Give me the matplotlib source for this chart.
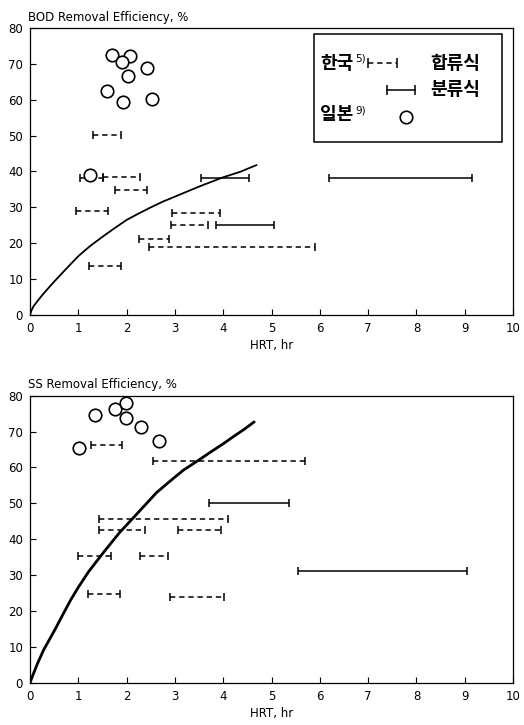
import numpy as np
import matplotlib
matplotlib.use("Agg")
import matplotlib.pyplot as plt
from matplotlib.patches import Rectangle

plt.rcParams['font.family'] = ['DejaVu Sans']
KR = ['Noto Sans CJK KR', 'DejaVu Sans']

# ---- BOD panel data ----
bod_jp_hrt = [1.69, 2.07, 1.90, 2.42, 2.02, 1.59, 1.92, 2.52, 1.24]
bod_jp_eff = [72.6, 72.1, 70.4, 68.9, 66.6, 62.5, 59.4, 60.1, 39.0]

bod_comb_lo = [1.31, 1.04, 1.52, 1.76, 0.95, 2.94, 2.91, 2.25, 2.46, 1.22]
bod_comb_hi = [1.88, 1.52, 2.28, 2.43, 1.62, 3.94, 3.68, 2.87, 5.90, 1.89]
bod_comb_eff = [50.1, 38.3, 38.5, 34.8, 29.1, 28.5, 25.0, 21.3, 19.0, 13.6]

bod_sep_lo = [3.53, 6.20, 3.85]
bod_sep_hi = [4.54, 9.14, 5.05]
bod_sep_eff = [38.2, 38.3, 25.0]

bod_curve_x = [0, 0.03, 0.08, 0.15, 0.25, 0.38, 0.5, 0.75, 1.0, 1.25, 1.5, 1.75,
               2.0, 2.25, 2.5, 2.75, 3.0, 3.25, 3.5, 3.75, 4.0, 4.35, 4.69]
bod_curve_y = [0, 1.3, 2.6, 3.8, 5.5, 7.5, 9.3, 12.9, 16.4, 19.3, 21.8, 24.2,
               26.5, 28.3, 30.0, 31.6, 33.0, 34.4, 35.8, 37.1, 38.4, 39.9, 41.8]

# ---- SS panel data ----
ss_jp_hrt = [1.34, 1.75, 1.98, 1.98, 2.29, 2.68, 1.02]
ss_jp_eff = [74.6, 76.4, 78.0, 73.8, 71.3, 67.4, 65.5]

ss_comb_lo = [1.26, 2.54, 1.43, 1.43, 3.06, 0.99, 2.27, 1.21, 2.90]
ss_comb_hi = [1.90, 5.70, 4.09, 2.38, 3.96, 1.67, 2.86, 1.86, 4.01]
ss_comb_eff = [66.2, 61.8, 45.5, 42.7, 42.7, 35.3, 35.3, 24.8, 24.0]

ss_sep_lo = [3.70, 5.55]
ss_sep_hi = [5.36, 9.04]
ss_sep_eff = [50.0, 31.1]

ss_curve_x = [0, 0.05, 0.15, 0.28, 0.4, 0.52, 0.68, 0.83, 1.0, 1.21, 1.52, 1.85,
              2.14, 2.4, 2.62, 2.9, 3.17, 3.52, 3.75, 4.0, 4.2, 4.42, 4.64]
ss_curve_y = [0, 1.8, 5.2, 9.1, 12.0, 14.9, 19.0, 22.8, 26.6, 30.9, 36.3, 41.8,
              46.0, 49.8, 53.0, 56.2, 59.2, 62.3, 64.4, 66.6, 68.5, 70.5, 72.7]

xticks = list(range(0, 11))
yticks = list(range(0, 90, 10))


def ranges(ax, lo, hi, y, ls):
    lo = np.array(lo)
    hi = np.array(hi)
    eb = ax.errorbar((lo + hi) / 2, y, xerr=(hi - lo) / 2, fmt='none',
                     ecolor='k', elinewidth=1.1, capsize=3.2, capthick=1.1)
    eb[2][0].set_linestyle(ls)


def panel(ax, title, jp_x, jp_y, c_lo, c_hi, c_y, s_lo, s_hi, s_y, cx, cy, clw):
    ax.set_xlim(0, 10)
    ax.set_ylim(0, 80)
    ax.set_xticks(xticks)
    ax.set_yticks(yticks)
    ax.tick_params(direction='in', length=4, width=0.8, labelsize=8.5, pad=5)
    for s in ax.spines.values():
        s.set_linewidth(0.9)
    ranges(ax, c_lo, c_hi, c_y, (0, (3.5, 2.5)))
    ranges(ax, s_lo, s_hi, s_y, '-')
    ax.plot(jp_x, jp_y, 'o', mfc='white', mec='k', mew=1.2, ms=9, ls='none')
    ax.plot(cx, cy, color='k', lw=clw, solid_capstyle='round',
            solid_joinstyle='round')
    ax.set_xlabel("HRT, hr", fontsize=8.5, labelpad=3)
    ax.text(-0.005, 1.015, title, transform=ax.transAxes, fontsize=8.5,
            ha='left', va='bottom')


fig = plt.figure(figsize=(5.24, 7.25), dpi=100)
ax1 = fig.add_axes([0.0573, 0.5655, 0.9218, 0.3959])
ax2 = fig.add_axes([0.0573, 0.0583, 0.9218, 0.3959])

panel(ax1, "BOD Removal Efficiency, %", bod_jp_hrt, bod_jp_eff,
      bod_comb_lo, bod_comb_hi, bod_comb_eff,
      bod_sep_lo, bod_sep_hi, bod_sep_eff, bod_curve_x, bod_curve_y, 1.3)
panel(ax2, "SS Removal Efficiency, %", ss_jp_hrt, ss_jp_eff,
      ss_comb_lo, ss_comb_hi, ss_comb_eff,
      ss_sep_lo, ss_sep_hi, ss_sep_eff, ss_curve_x, ss_curve_y, 2.0)

# legend box (top panel)
t = ax1.transAxes
ax1.add_patch(Rectangle((0.588, 0.604), 0.39, 0.375, transform=t,
                        fill=False, ec='k', lw=1.1))
kr = dict(transform=t, family=KR, fontsize=13, weight='bold', va='center', ha='left')
ax1.text(0.600, 0.877, "한국", **kr)
ax1.text(0.673, 0.895, "5)", transform=t, fontsize=7.5, va='center', ha='left')
ax1.text(0.600, 0.697, "일본", **kr)
ax1.text(0.673, 0.712, "9)", transform=t, fontsize=7.5, va='center', ha='left')
ax1.text(0.828, 0.877, "합류식", **kr)
ax1.text(0.828, 0.784, "분류식", **kr)
ax1.plot([0.700, 0.759], [0.877, 0.877], transform=t, color='k', lw=1.1,
         ls=(0, (3.5, 2.5)))
ax1.plot([0.700, 0.759], [0.877, 0.877], transform=t, color='k', marker='|',
         ms=6.5, mew=1.1, ls='none')
ax1.plot([0.740, 0.797], [0.784, 0.784], transform=t, color='k', lw=1.1,
         marker='|', ms=6.5, mew=1.1)
ax1.plot([0.778], [0.689], 'o', transform=t, mfc='white', mec='k', mew=1.2, ms=9)

fig.savefig("out.png", dpi=100)
